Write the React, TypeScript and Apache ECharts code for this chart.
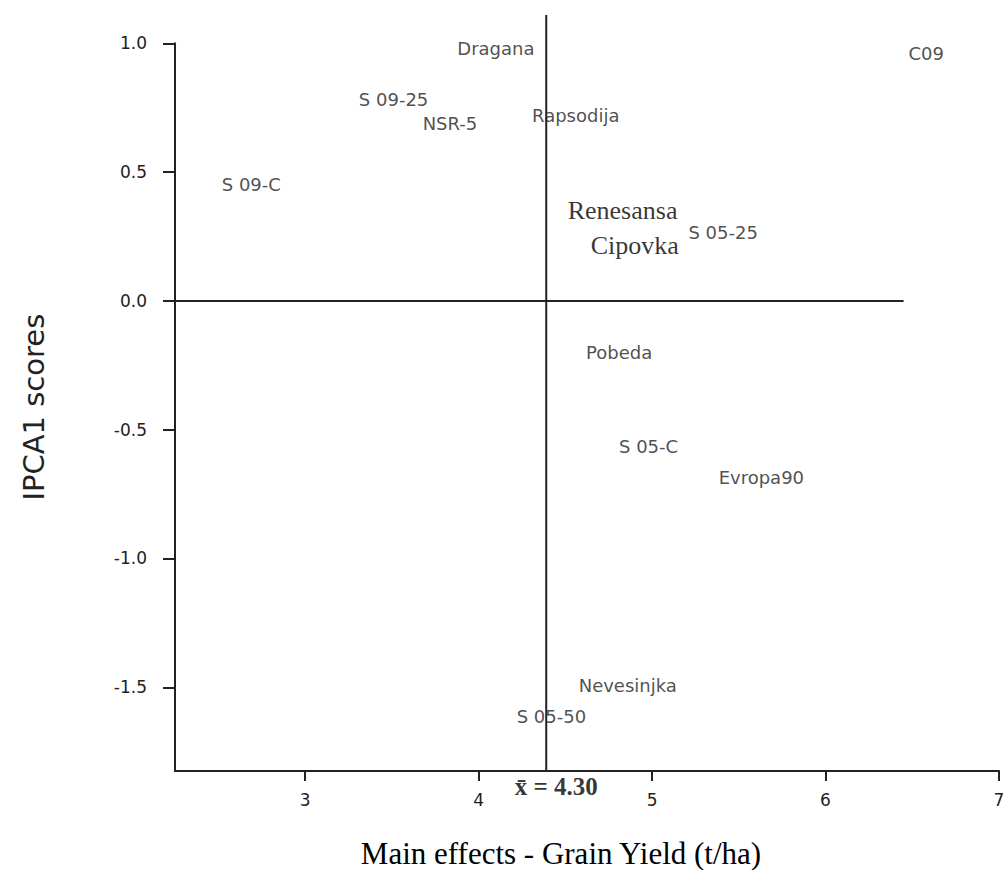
import React, { useEffect, useRef } from "react";
import * as echarts from "echarts";

// Genotype labels (placed at their AMMI coordinates)
const genotypes = ["Dragana", "S 09-25", "NSR-5", "Rapsodija", "S 09-C", "C09", "Renesansa", "Cipovka", "S 05-25", "Pobeda", "S 05-C", "Evropa90", "Nevesinjka", "S 05-50"];
const grainYield = [4.10, 3.51, 3.835, 4.56, 2.69, 6.58, 4.83, 4.90, 5.41, 4.81, 4.98, 5.63, 4.86, 4.42];
const ipca1 = [0.978, 0.783, 0.690, 0.721, 0.453, 0.962, 0.352, 0.216, 0.266, -0.200, -0.566, -0.686, -1.495, -1.615];
const serifGenotypes = ["Renesansa", "Cipovka"];

const xTicks = [3, 4, 5, 6, 7];
const yTicks = [-1.5, -1.0, -0.5, 0.0, 0.5, 1.0];
const xRange = [2.25, 7.0];
const yRange = [-1.825, 1.0];

const meanLineX = 4.39;
const meanLineTop = 1.11;
const meanLabel = "x̄ = 4.30";
const zeroLineEnd = 6.45;

export default function App() {
  const ref = useRef<HTMLDivElement>(null);
  useEffect(() => {
    if (!ref.current) return;
    const chart = echarts.init(ref.current, null, { renderer: "svg" });
    const labelData = genotypes.map((name, i) => {
      const serif = serifGenotypes.includes(name);
      return {
        name,
        value: [grainYield[i], ipca1[i]],
        label: serif
          ? { fontFamily: "Liberation Serif", fontSize: 26, color: "#000" }
          : { fontFamily: "DejaVu Sans", fontSize: 18, color: "#222" },
      };
    });
    chart.setOption({
      animation: false,
      backgroundColor: "#fff",
      grid: {
        left: 175,
        right: 4,
        top: 43.3,
        bottom: 99,
        containLabel: false,
        outerBoundsMode: "none",
      },
      xAxis: {
        type: "value",
        min: xRange[0],
        max: xRange[1],
        splitLine: { show: false },
        axisLine: { onZero: false, lineStyle: { color: "#222", width: 2 } },
        axisTick: { customValues: xTicks, length: 10, lineStyle: { color: "#222", width: 2 } },
        axisLabel: {
          customValues: xTicks,
          margin: 20,
          fontFamily: "DejaVu Sans",
          fontSize: 17,
          color: "#222",
          formatter: (v: number) => String(v),
        },
        name: "Main effects - Grain Yield (t/ha)",
        nameLocation: "middle",
        nameGap: 67,
        nameTextStyle: {
          fontFamily: "Liberation Serif",
          fontSize: 31,
          color: "#000",
          padding: [0, 52, 0, 0],
        },
      },
      yAxis: {
        type: "value",
        min: yRange[0],
        max: yRange[1],
        splitLine: { show: false },
        axisLine: { onZero: false, lineStyle: { color: "#222", width: 2 } },
        axisTick: { customValues: yTicks, length: 12, lineStyle: { color: "#222", width: 2 } },
        axisLabel: {
          customValues: yTicks,
          margin: 28,
          fontFamily: "DejaVu Sans",
          fontSize: 17,
          color: "#222",
          formatter: (v: number) => v.toFixed(1),
        },
        name: "IPCA1 scores",
        nameLocation: "middle",
        nameRotate: 90,
        nameGap: 107,
        nameTextStyle: {
          fontFamily: "DejaVu Sans",
          fontSize: 29,
          color: "#222",
          padding: [0, 0, 20, 0],
        },
      },
      series: [
        {
          type: "line",
          clip: false,
          symbol: "none",
          silent: true,
          lineStyle: { color: "#222", width: 2 },
          data: [[xRange[0], 0], [zeroLineEnd, 0]],
        },
        {
          type: "line",
          clip: false,
          symbol: "none",
          silent: true,
          lineStyle: { color: "#222", width: 2 },
          data: [[meanLineX, yRange[0]], [meanLineX, meanLineTop]],
        },
        {
          type: "scatter",
          clip: false,
          silent: true,
          symbolSize: 1,
          itemStyle: { color: "rgba(0,0,0,0)" },
          label: {
            show: true,
            position: "bottom",
            distance: 2,
            offset: [10, 0],
            formatter: meanLabel,
            fontFamily: "Liberation Serif",
            fontWeight: "bold",
            fontSize: 25,
            color: "#000",
          },
          data: [[meanLineX, yRange[0]]],
        },
        {
          type: "scatter",
          clip: false,
          symbolSize: 1,
          itemStyle: { color: "rgba(0,0,0,0)" },
          label: {
            show: true,
            position: "inside",
            formatter: (p: any) => p.name,
          },
          data: labelData,
        },
      ],
    });
    return () => chart.dispose();
  }, []);
  return (
    <div
      ref={ref}
      style={{ position: "fixed", left: 0, top: 0, width: 1003, height: 870, background: "#fff" }}
    />
  );
}
